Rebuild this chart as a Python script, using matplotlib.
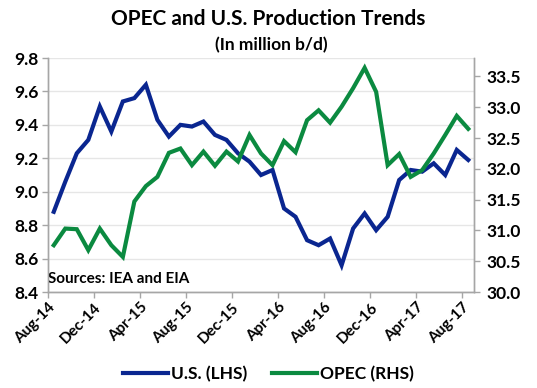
import numpy as np
import matplotlib
matplotlib.use('Agg')
import matplotlib.pyplot as plt
from matplotlib.lines import Line2D

plt.rcParams['font.family'] = ['Lato', 'DejaVu Sans']
plt.rcParams['font.weight'] = 'bold'

# monthly values Aug-14 .. Aug-17
us = [8.88, 9.06, 9.23, 9.31, 9.51, 9.36, 9.54, 9.56, 9.64, 9.43,
      9.33, 9.40, 9.39, 9.42, 9.34, 9.31, 9.23, 9.18, 9.10, 9.13,
      8.90, 8.85, 8.71, 8.68, 8.72, 8.56, 8.78, 8.87, 8.77, 8.85,
      9.07, 9.13, 9.12, 9.17, 9.10, 9.25, 9.19]
opec = [30.76, 31.03, 31.02, 30.68, 31.03, 30.76, 30.57, 31.47, 31.72, 31.87,
        32.26, 32.33, 32.06, 32.28, 32.05, 32.28, 32.12, 32.55, 32.25, 32.06,
        32.45, 32.27, 32.79, 32.95, 32.75, 33.01, 33.31, 33.64, 33.25, 32.06,
        32.24, 31.87, 31.98, 32.25, 32.55, 32.86, 32.65]
tick_labels = ['Aug-14', 'Dec-14', 'Apr-15', 'Aug-15', 'Dec-15',
               'Apr-16', 'Aug-16', 'Dec-16', 'Apr-17', 'Aug-17']

blue = '#0a2690'
green = '#0b8a40'
grey = '#a6a6a6'

fig = plt.figure(figsize=(5.37, 3.88), dpi=100)
ax = fig.add_axes([0.0894, 0.2474, 0.7933, 0.6031])
ax2 = ax.twinx()

x = np.arange(len(us))
ax.plot(x, us, color=blue, lw=3.0, solid_joinstyle='miter', zorder=3)
ax2.plot(x, opec, color=green, lw=3.0, solid_joinstyle='miter', zorder=3)

ax.set_xlim(-0.5, len(us) - 0.5)
ax.set_ylim(8.4, 9.8)
ax.set_yticks(np.arange(8.4, 9.81, 0.2))
ax.set_yticklabels(['%.1f' % v for v in np.arange(8.4, 9.81, 0.2)])
ax2.set_ylim(30.0, 33.8)
ax2.set_yticks(np.arange(30.0, 33.51, 0.5))
ax2.set_yticklabels(['%.1f' % v for v in np.arange(30.0, 33.51, 0.5)])

ax.set_xticks(np.arange(len(tick_labels)) * 4 - 0.5)
ax.set_xticklabels(tick_labels, rotation=45, ha='right', rotation_mode='anchor')

ax.grid(axis='y', color='#e6e6e6', lw=1.0)
ax.set_axisbelow(True)

for a in (ax, ax2):
    a.spines['top'].set_visible(False)
    for s in ('left', 'right', 'bottom'):
        a.spines[s].set_color(grey)
        a.spines[s].set_linewidth(1.0)
    a.tick_params(colors=grey, length=4, width=1.0)
ax.tick_params(axis='y', labelcolor='black', labelsize=12.5, pad=3)
ax.tick_params(axis='x', labelcolor='black', labelsize=11, pad=2)
ax2.tick_params(axis='y', labelcolor='black', labelsize=12.5, pad=5)

ax.text(0.0, 0.055, 'Sources: IEA and EIA', transform=ax.transAxes,
        fontsize=11, fontweight='bold', ha='left', va='center')

fig.text(0.5, 0.952, 'OPEC and U.S. Production Trends', ha='center', va='center',
         fontsize=15, fontweight='bold')
fig.text(0.505, 0.884, '(In million b/d)', ha='center', va='center',
         fontsize=12.5, fontweight='bold')

handles = [Line2D([], [], color=blue, lw=3.0), Line2D([], [], color=green, lw=3.0)]
fig.legend(handles, ['U.S. (LHS)', 'OPEC (RHS)'], loc='center',
           bbox_to_anchor=(0.5, 0.035), ncol=2, frameon=False, fontsize=12.5,
           handlelength=2.6, handletextpad=0.2, columnspacing=1.4)

fig.savefig('out.png', dpi=100)
